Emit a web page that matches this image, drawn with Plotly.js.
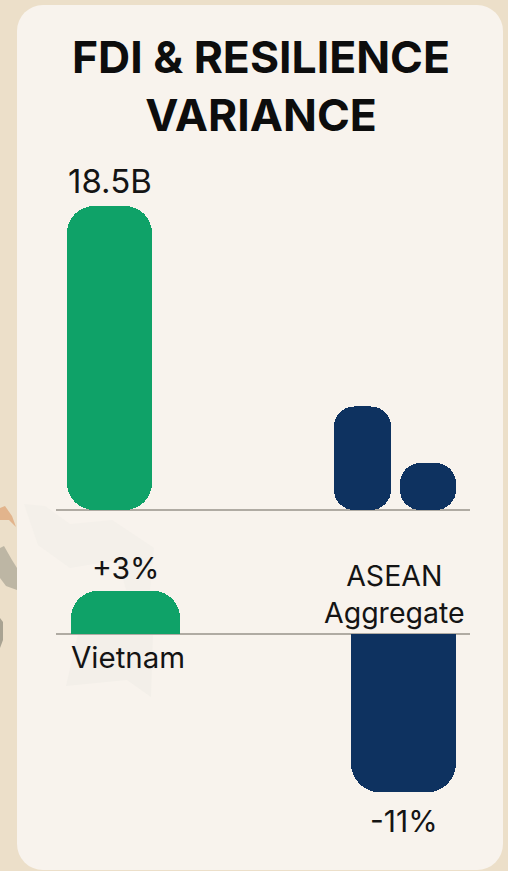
<!DOCTYPE html>
<html>
<head>
<meta charset="utf-8">
<script src="https://cdn.plot.ly/plotly-3.0.0.min.js"></script>
<style>
  html, body { margin: 0; padding: 0; width: 508px; height: 871px; overflow: hidden; background: #ecdfc9; }
  #backdrop { position: absolute; left: 0; top: 0; }
  #chart { position: absolute; left: 0; top: 0; width: 508px; height: 871px; }
</style>
</head>
<body>
<!-- Page backdrop: tan sheet, map fragments at the left edge, pale card with a faint map -->
<svg id="backdrop" width="508" height="871" viewBox="0 0 508 871">
  <rect width="508" height="871" fill="#ecdfc9"/>
  <path d="M0 508 L5 506 L12 516 L16 527 L9 520 L0 520 Z" fill="#e2b48c"/>
  <path d="M0 548 L4 546 L12 560 L17 568 L17 590 L6 586 L0 578 Z" fill="#bdb6a4"/>
  <path d="M0 618 L3 622 L3 640 L0 648 Z" fill="#a9a392"/>
  <rect x="17" y="5" width="486" height="865" rx="26" ry="26" fill="#f8f3ed"/>
  <path d="M24 504 L45 506 L70 524 L112 520 L154 548 L150 590 L126 590 L118 560 L70 568 L38 545 Z" fill="#f4f0ea"/>
  <path d="M78 634 L153 634 L151 697 L127 680 L66 686 Z" fill="#f3efe9"/>
</svg>
<div id="chart"></div>
<script>
// Capital inflows, USD billions
const fdiLabels = ["18.5B"];
const fdiVietnam = [18.5];
const fdiAsean = [6.3, 2.85];

// Resilience variance, percent
const varianceCategories = ["Vietnam", "ASEAN Aggregate"];
const varianceVietnam = [3];
const varianceAsean = [-11];
const varianceLabels = ["+3%", "-11%"];

const chartTitle = "FDI & RESILIENCE<br>VARIANCE";

// Slots along the shared 0-414 horizontal scale
const fdiSlots = { vietnam: [53.5], asean: [306.5, 372] };
const fdiWidths = { vietnam: [85], asean: [57, 56] };
const varianceSlots = [69.5, 347.5];
const varianceWidths = [109, 105];

const GREEN = "#0fa268";
const NAVY = "#0e3260";
const INK = "#141414";
const RULE = "#b0aba3";
const W = 508, H = 871;

// An explicit base makes plotly round both ends of the bar
function pillTrace(xs, widths, values, color, radius) {
  return {
    type: "bar",
    x: xs,
    y: values,
    base: values.map(() => 0),
    width: widths,
    xaxis: "x",
    yaxis: "y",
    marker: { color: color, cornerradius: radius, line: { width: 0 } },
    hoverinfo: "skip",
    showlegend: false
  };
}

const traces = [
  pillTrace(fdiSlots.vietnam, fdiWidths.vietnam, fdiVietnam, GREEN, 27),
  pillTrace(fdiSlots.asean, fdiWidths.asean, fdiAsean, NAVY, 20),
  {
    type: "bar", x: [varianceSlots[0]], y: varianceVietnam, width: [varianceWidths[0]],
    xaxis: "x2", yaxis: "y2", marker: { color: GREEN, cornerradius: 27 },
    hoverinfo: "skip", showlegend: false
  },
  {
    type: "bar", x: [varianceSlots[1]], y: varianceAsean, width: [varianceWidths[1]],
    xaxis: "x2", yaxis: "y2", marker: { color: NAVY, cornerradius: 29 },
    hoverinfo: "skip", showlegend: false
  }
];

const bodyFont = { family: "Inter, 'Noto Sans', sans-serif", size: 30, color: INK };

function note(text, xref, yref, x, y, yanchor, yshift, size) {
  return {
    text: text, xref: xref, yref: yref, x: x, y: y,
    xanchor: "center", yanchor: yanchor, yshift: yshift,
    showarrow: false, align: "center",
    font: Object.assign({}, bodyFont, { size: size })
  };
}

const annotations = [
  note(fdiLabels[0], "x", "y", fdiSlots.vietnam[0], fdiVietnam[0], "bottom", 3, 33),
  note(varianceLabels[0], "x2", "y2", varianceSlots[0], varianceVietnam[0], "bottom", 3, 30),
  note(varianceLabels[1], "x2", "y2", varianceSlots[1], varianceAsean[0], "top", -9, 30),
  note(varianceCategories[0], "x2", "y2", varianceSlots[0] + 2, 0, "top", -3, 29.5),
  note("ASEAN<br>Aggregate", "x2", "y2", 338.5, 0, "bottom", 2, 28.5)
];

const hiddenX = {
  range: [0, 414], domain: [56 / W, 470 / W],
  showgrid: false, showticklabels: false, ticks: "", zeroline: false, showline: false, fixedrange: true
};

// Each vertical axis is sized so its baseline lands on the rule and its zero line draws the rule
function valueAxis(range, topPx, bottomPx) {
  return {
    range: range, domain: [1 - bottomPx / H, 1 - topPx / H],
    showgrid: false, showticklabels: false, ticks: "", showline: false,
    zeroline: true, zerolinecolor: RULE, zerolinewidth: 2, fixedrange: true
  };
}

const layout = {
  width: W,
  height: H,
  margin: { l: 0, r: 0, t: 0, b: 0 },
  paper_bgcolor: "rgba(0,0,0,0)",
  plot_bgcolor: "rgba(0,0,0,0)",
  barmode: "overlay",
  bargap: 0,
  title: {
    text: chartTitle,
    x: 261 / W, xanchor: "center",
    y: 1 - 73 / H, yanchor: "top",
    font: { family: "Inter, 'Noto Sans', sans-serif", size: 44.5, color: "#0d0d0d", weight: 700 }
  },
  xaxis: Object.assign({}, hiddenX, { anchor: "y" }),
  yaxis: Object.assign(valueAxis([0, 20], 510 - 20 * 16.43, 510), { anchor: "x" }),
  xaxis2: Object.assign({}, hiddenX, { anchor: "y2" }),
  yaxis2: Object.assign(valueAxis([-12, 4], 634 - 4 * 14.4, 634 + 12 * 14.4), { anchor: "x2" }),
  annotations: annotations
};

Plotly.newPlot("chart", traces, layout, { displayModeBar: false, staticPlot: true });
</script>
</body>
</html>
